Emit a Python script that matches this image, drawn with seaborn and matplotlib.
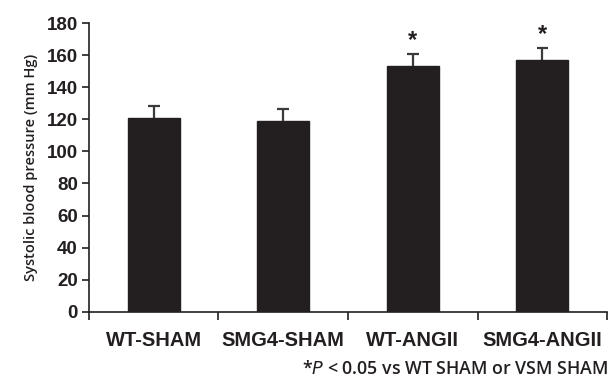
import numpy as np
import pandas as pd
import matplotlib
matplotlib.use("Agg")
import matplotlib.pyplot as plt
import seaborn as sns
from matplotlib.ticker import FixedLocator

groups = ["WT-SHAM", "SMG4-SHAM", "WT-ANGII", "SMG4-ANGII"]
sbp = [121, 119, 153, 157]
sem = [7.5, 7.5, 7.5, 7.5]
signif = [False, False, True, True]

sns.set_theme(style="white")
plt.rcParams["font.family"] = ["Liberation Sans", "DejaVu Sans"]

df = pd.DataFrame({"group": groups, "sbp": sbp})

fig = plt.figure(figsize=(6.09, 3.78), dpi=100)
ax = fig.add_axes([0.146, 0.175, 0.851, 0.764])

sns.barplot(data=df, x="group", y="sbp", color="#231F20", width=0.4,
            saturation=1, errorbar=None, ax=ax, edgecolor="#231F20")

# upper-only error bars (stem + top cap)
x = np.arange(len(groups))
tops = np.array(sbp) + np.array(sem)
ax.vlines(x, sbp, tops, color="#3a3a3a", linewidth=1.6, zorder=1)
ax.hlines(tops, x - 0.045, x + 0.045, color="#3a3a3a", linewidth=1.6, zorder=1)

for xi, t, s in zip(x, tops, signif):
    if s:
        ax.text(xi, t + 1.5, "*", ha="center", va="bottom",
                fontsize=17, fontweight="bold", color="#231F20")

ax.set_xlim(-0.5, 3.5)
ax.set_ylim(0, 180)
ax.set_yticks(range(0, 181, 20))
ax.tick_params(axis="y", labelsize=13.5, length=5, width=1.2, direction="out",
               left=True, color="#231F20", labelcolor="#231F20", pad=3)
for lab in ax.get_yticklabels():
    lab.set_fontweight("bold")

ax.xaxis.set_minor_locator(FixedLocator([-0.5, 0.5, 1.5, 2.5, 3.5]))
ax.tick_params(axis="x", which="major", length=0, labelsize=14.5, pad=14,
               labelcolor="#231F20")
ax.tick_params(axis="x", which="minor", length=6, width=1.2, direction="out",
               bottom=True, color="#231F20")
for lab in ax.get_xticklabels():
    lab.set_fontweight("bold")

ax.set_xlabel("")
ax.set_ylabel("Systolic blood pressure (mm Hg)", fontsize=10.5, color="#231F20",
              fontweight="semibold", family=["Open Sans", "DejaVu Sans"], labelpad=6)

sns.despine(ax=ax)
for sp in ["left", "bottom"]:
    ax.spines[sp].set_color("#231F20")
    ax.spines[sp].set_linewidth(1.2)

fig.text(0.998, 0.024, r"*$\it{P}$ < 0.05 vs WT SHAM or VSM SHAM", ha="right",
         va="center", fontsize=12.8, fontweight="semibold",
         family=["Open Sans", "DejaVu Sans"], color="#231F20")

fig.savefig("out.png", dpi=100)
